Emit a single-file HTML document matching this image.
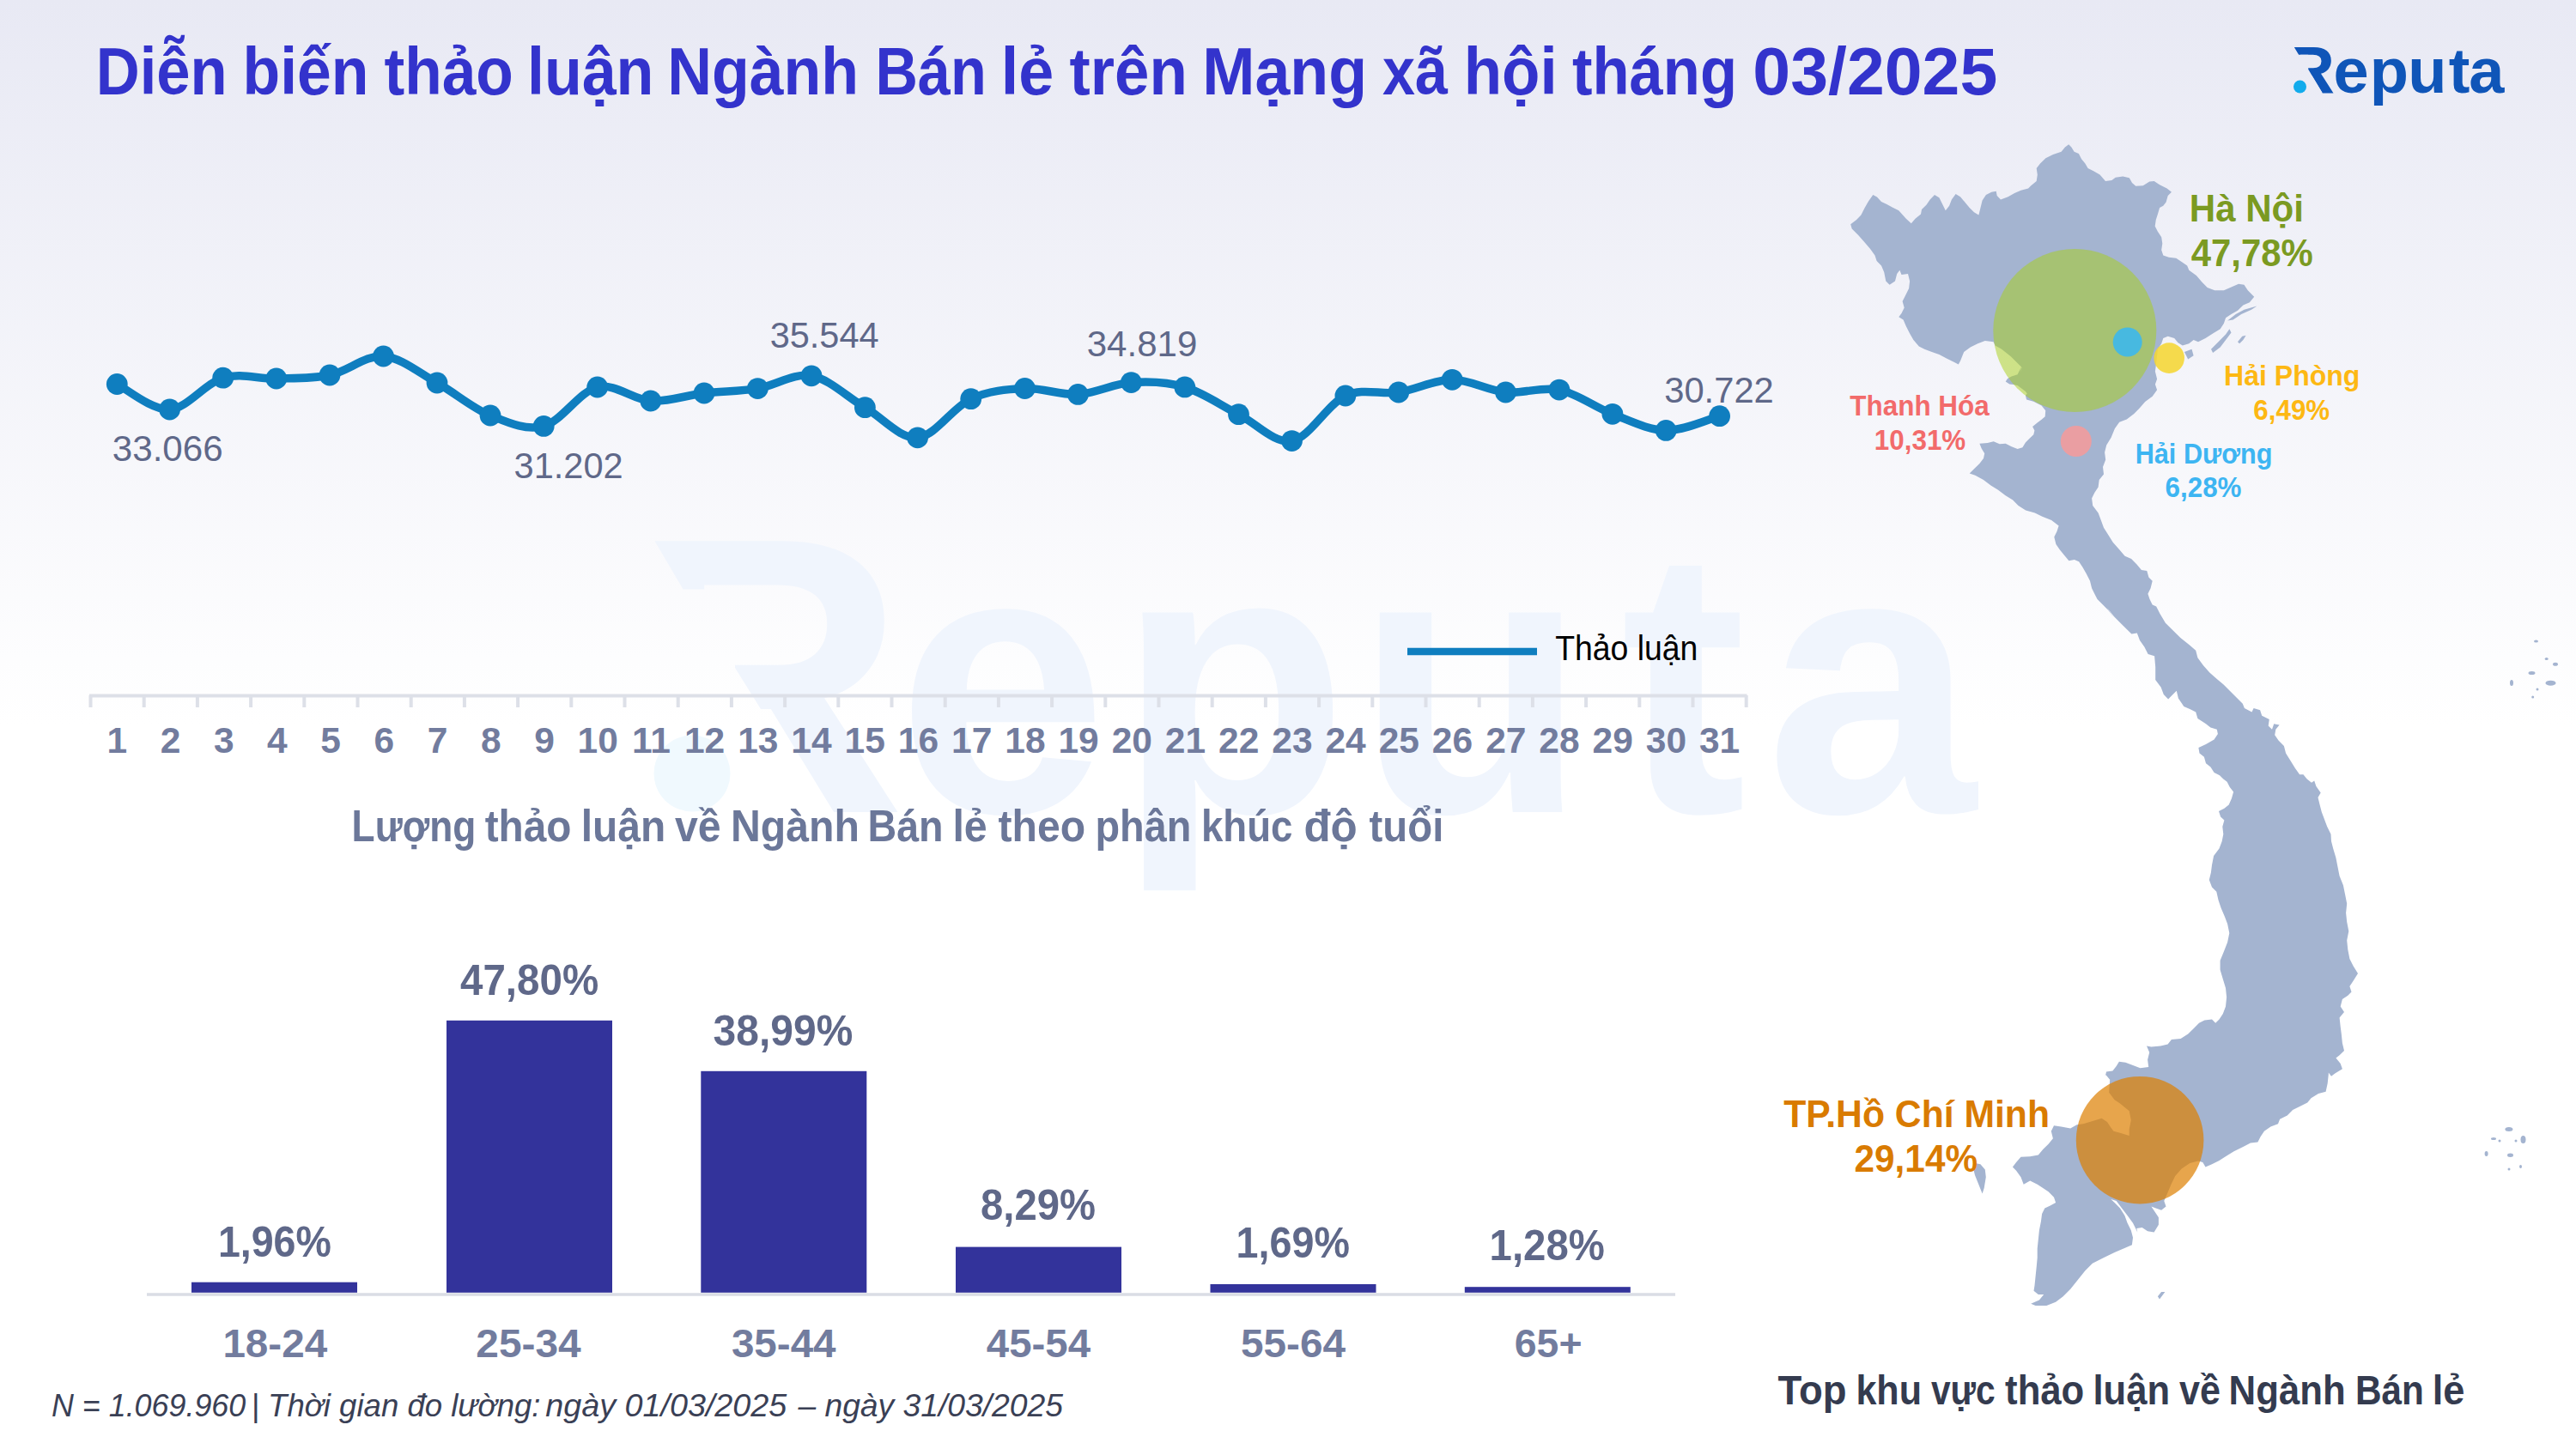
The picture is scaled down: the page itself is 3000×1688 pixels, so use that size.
<!DOCTYPE html><html lang="vi"><head><meta charset="utf-8"><title>Diễn biến thảo luận Ngành Bán lẻ</title>
<style>html,body{margin:0;padding:0;background:#fff}body{width:3000px;height:1688px;overflow:hidden}svg{display:block}text{font-family:"Liberation Sans", Arial, sans-serif;white-space:pre}.b{font-weight:bold}.i{font-style:italic}</style></head><body>
<svg width="3000" height="1688" viewBox="0 0 3000 1688">
<defs><linearGradient id="bg" x1="0" y1="0" x2="0" y2="1"><stop offset="0" stop-color="#E8E9F4"/><stop offset="0.5" stop-color="#FFFFFF"/><stop offset="1" stop-color="#FFFFFF"/></linearGradient>
<clipPath id="cw"><path d="M760 626 H2400 V1100 H1000 V946 H961 L856 778 V686.5 H795.5 Z"/></clipPath>
<clipPath id="cl"><path d="M2670 52 H2930 V130 H2704.2 V107.6 L2688.2 80.8 V63.7 H2677.1 Z"/></clipPath>
</defs>
<rect width="3000" height="1688" fill="url(#bg)"/>
<text class="b" x="723.4 1044.8 1301.4 1579.5 1887.3 2056.5" y="946.0" font-size="440.0" fill="#F0F5FD" clip-path="url(#cw)"><tspan font-size="459.0">R</tspan>eputa</text>
<circle cx="806" cy="901" r="44.5" fill="#F0F9FE"/>
<text class="b" x="2662.8 2717.4 2759.8 2804.3 2851.7 2875.2" y="107.6" font-size="74.0" fill="#0F55B8" clip-path="url(#cl)"><tspan font-size="78.0">R</tspan>eputa</text>
<circle cx="2678.5" cy="101" r="7.5" fill="#12ABEC"/>
<text class="b" font-size="77.0" fill="#3333CC" y="109.5"><tspan x="111.7" textLength="152.9" lengthAdjust="spacingAndGlyphs">Diễn</tspan> <tspan x="282.5" textLength="147.0" lengthAdjust="spacingAndGlyphs">biến</tspan> <tspan x="447.5" textLength="150.3" lengthAdjust="spacingAndGlyphs">thảo</tspan> <tspan x="614.0" textLength="147.4" lengthAdjust="spacingAndGlyphs">luận</tspan> <tspan x="777.2" textLength="222.9" lengthAdjust="spacingAndGlyphs">Ngành</tspan> <tspan x="1019.4" textLength="129.3" lengthAdjust="spacingAndGlyphs">Bán</tspan> <tspan x="1165.7" textLength="61.5" lengthAdjust="spacingAndGlyphs">lẻ</tspan> <tspan x="1245.6" textLength="137.3" lengthAdjust="spacingAndGlyphs">trên</tspan> <tspan x="1400.3" textLength="191.8" lengthAdjust="spacingAndGlyphs">Mạng</tspan> <tspan x="1610.1" textLength="76.0" lengthAdjust="spacingAndGlyphs">xã</tspan> <tspan x="1704.7" textLength="108.9" lengthAdjust="spacingAndGlyphs">hội</tspan> <tspan x="1831.0" textLength="192.0" lengthAdjust="spacingAndGlyphs">tháng</tspan> <tspan x="2041.3" textLength="285.0" lengthAdjust="spacingAndGlyphs">03/2025</tspan></text>
<g fill="#A4B4D0">
<path d="M2155.2 261.2 L2162.1 255.9 L2167.4 250.5 L2171.7 242.0 L2176.0 234.5 L2181.3 227.0 L2186.0 229.6 L2191.0 235.1 L2197.4 238.1 L2203.8 241.6 L2211.3 245.2 L2219.8 254.8 L2225.8 260.2 L2230.5 254.8 L2237.0 249.5 L2238.0 244.1 L2243.4 238.8 L2247.7 232.4 L2253.0 227.0 L2258.4 230.2 L2262.6 238.8 L2265.8 245.2 L2270.1 239.8 L2272.9 232.4 L2277.6 225.9 L2283.0 229.2 L2288.3 235.6 L2293.7 242.0 L2299.0 247.3 L2304.4 250.5 L2306.5 242.0 L2308.6 233.4 L2312.9 227.0 L2319.3 223.8 L2324.7 222.7 L2325.7 228.1 L2330.0 232.4 L2338.6 229.2 L2346.1 224.9 L2353.6 221.7 L2362.1 219.5 L2365.3 216.3 L2371.7 211.0 L2372.8 203.5 L2371.7 196.0 L2376.0 190.6 L2382.4 184.2 L2391.0 179.9 L2400.6 176.7 L2404.9 171.4 L2409.2 168.2 L2412.4 171.4 L2415.6 176.7 L2420.9 178.9 L2424.1 185.3 L2428.4 190.6 L2431.6 196.0 L2438.1 199.2 L2445.5 203.5 L2452.0 211.0 L2459.4 209.9 L2463.7 206.7 L2472.3 205.6 L2479.8 207.3 L2483.0 213.1 L2487.3 216.7 L2495.8 216.3 L2503.3 211.6 L2508.7 211.0 L2515.1 215.2 L2523.6 219.5 L2529.0 223.8 L2524.7 228.1 L2522.6 235.6 L2519.3 239.8 L2515.1 242.0 L2512.9 249.5 L2510.8 255.9 L2509.7 263.4 L2512.9 269.8 L2517.2 276.2 L2518.3 283.7 L2517.2 291.2 L2519.3 297.6 L2525.8 299.7 L2534.3 300.8 L2540.7 305.1 L2547.2 309.4 L2549.3 314.7 L2557.9 321.1 L2564.3 328.6 L2570.7 335.0 L2579.2 338.3 L2589.9 338.3 L2599.6 334.0 L2607.1 330.8 L2613.5 331.8 L2617.8 338.3 L2625.2 345.7 L2619.9 352.2 L2612.4 355.4 L2606.0 361.8 L2598.5 366.1 L2592.1 370.3 L2589.9 376.8 L2585.7 383.2 L2577.1 388.5 L2568.5 393.9 L2560.0 398.2 L2554.6 396.0 L2549.3 400.3 L2541.8 402.4 L2536.5 399.2 L2532.2 393.9 L2524.7 391.7 L2519.3 393.9 L2517.2 400.3 L2512.9 406.7 L2510.8 426.0 L2509.9 432.8 L2512.1 441.4 L2509.9 447.8 L2512.1 454.2 L2506.7 461.7 L2498.2 468.1 L2491.7 475.6 L2485.3 482.0 L2476.8 488.5 L2468.2 491.7 L2462.9 499.2 L2458.6 509.8 L2453.2 518.4 L2451.1 527.0 L2452.2 535.5 L2449.0 544.1 L2450.0 552.6 L2444.7 559.1 L2443.6 567.6 L2439.3 574.0 L2436.1 580.4 L2437.2 589.0 L2443.6 597.6 L2446.8 606.1 L2450.0 614.7 L2455.4 623.2 L2460.7 631.8 L2468.2 640.3 L2474.6 647.8 L2482.1 651.0 L2488.5 657.5 L2493.9 663.9 L2500.3 664.9 L2502.4 672.4 L2506.7 676.7 L2504.6 685.3 L2501.4 691.7 L2503.5 698.1 L2506.7 704.5 L2511.2 706.4 L2515.5 715.0 L2521.9 725.7 L2530.5 734.2 L2539.1 742.8 L2549.7 751.3 L2557.2 757.8 L2559.4 766.3 L2565.8 774.9 L2573.3 783.4 L2581.8 790.9 L2589.3 797.3 L2596.8 804.8 L2604.3 812.3 L2611.8 819.8 L2613.9 825.1 L2622.5 829.4 L2624.6 825.1 L2632.1 827.3 L2634.2 833.7 L2642.8 838.0 L2641.7 845.5 L2646.0 849.7 L2648.2 843.3 L2654.6 844.4 L2650.3 849.7 L2649.2 856.2 L2653.5 862.6 L2659.9 869.0 L2662.1 877.6 L2667.4 886.1 L2672.8 894.7 L2678.1 902.2 L2682.4 902.2 L2686.7 907.5 L2692.0 911.8 L2695.2 909.6 L2697.4 916.1 L2702.7 923.6 L2699.5 928.9 L2701.6 937.5 L2703.8 946.0 L2707.0 954.6 L2710.2 963.1 L2714.5 971.7 L2715.0 980.0 L2717.2 988.6 L2720.4 999.3 L2722.5 1009.9 L2724.6 1020.6 L2728.9 1031.3 L2731.1 1042.0 L2733.2 1052.7 L2732.1 1063.4 L2733.2 1074.1 L2735.3 1084.8 L2733.2 1095.5 L2734.3 1106.2 L2736.4 1116.9 L2740.7 1125.5 L2746.0 1134.0 L2740.7 1142.6 L2736.4 1149.0 L2738.5 1155.4 L2734.3 1159.7 L2727.9 1164.0 L2725.7 1172.5 L2730.0 1179.0 L2724.6 1185.4 L2725.7 1196.1 L2726.8 1204.6 L2727.9 1215.3 L2730.0 1223.9 L2724.6 1229.2 L2720.4 1232.4 L2725.7 1238.9 L2727.9 1245.3 L2719.3 1250.6 L2715.0 1253.8 L2711.8 1249.5 L2711.8 1251.4 L2710.7 1262.1 L2708.6 1271.7 L2700.0 1273.9 L2691.5 1279.2 L2687.2 1284.6 L2678.7 1288.8 L2670.1 1293.1 L2663.7 1299.5 L2655.1 1303.8 L2653.0 1309.2 L2644.4 1312.4 L2636.9 1317.7 L2632.7 1324.1 L2629.4 1330.5 L2620.9 1331.6 L2612.3 1335.9 L2601.6 1341.2 L2593.1 1346.6 L2584.5 1351.9 L2576.0 1356.2 L2568.5 1359.4 L2565.3 1354.1 L2559.9 1352.4 L2550.3 1355.1 L2540.7 1361.6 L2533.2 1370.1 L2528.5 1379.7 L2524.2 1390.0 L2520.3 1399.0 L2522.5 1405.4 L2517.1 1409.7 L2510.7 1407.6 L2505.4 1405.4 L2509.6 1411.8 L2513.9 1418.3 L2513.9 1426.8 L2508.6 1435.4 L2501.1 1434.3 L2494.7 1430.0 L2488.3 1431.1 L2489.3 1435.4 L2484.0 1424.7 L2477.6 1416.1 L2471.1 1407.6 L2464.7 1399.0 L2458.3 1396.9 L2462.6 1401.1 L2469.0 1407.6 L2474.4 1416.1 L2477.6 1424.7 L2481.8 1433.2 L2484.0 1441.8 L2482.9 1450.3 L2475.4 1453.6 L2462.6 1458.9 L2449.7 1465.3 L2436.9 1471.7 L2428.4 1480.3 L2419.8 1491.0 L2411.2 1501.7 L2402.7 1510.2 L2394.1 1516.7 L2383.4 1520.9 L2370.6 1520.9 L2365.2 1518.8 L2374.9 1514.5 L2380.2 1508.1 L2373.8 1508.1 L2368.5 1503.8 L2369.5 1497.4 L2370.6 1486.7 L2371.7 1476.0 L2372.7 1465.3 L2372.7 1454.6 L2373.8 1443.9 L2374.9 1433.2 L2377.0 1422.5 L2378.1 1414.0 L2381.3 1407.6 L2387.7 1404.4 L2394.1 1401.1 L2392.0 1394.7 L2385.6 1388.3 L2379.2 1384.0 L2372.7 1379.7 L2364.2 1375.5 L2356.7 1379.7 L2353.5 1371.2 L2348.1 1363.7 L2343.9 1359.4 L2348.1 1354.1 L2353.5 1347.7 L2364.2 1347.2 L2373.8 1345.5 L2379.2 1339.1 L2385.6 1332.7 L2390.9 1326.3 L2388.8 1317.7 L2392.0 1311.3 L2400.5 1312.4 L2411.2 1314.5 L2418.7 1310.2 L2426.2 1309.2 L2436.9 1305.9 L2447.6 1302.7 L2454.0 1307.0 L2458.3 1313.4 L2461.5 1317.7 L2469.0 1319.8 L2479.7 1323.1 L2479.7 1315.6 L2481.8 1304.9 L2479.7 1294.2 L2469.0 1285.6 L2462.6 1281.3 L2456.2 1272.8 L2457.2 1257.8 L2451.9 1251.4 L2451.9 1253.8 L2453.0 1248.5 L2460.4 1247.4 L2464.7 1242.1 L2467.9 1236.7 L2475.4 1237.8 L2484.0 1241.0 L2492.5 1244.2 L2502.2 1243.1 L2501.1 1234.6 L2503.2 1226.0 L2500.0 1218.5 L2505.4 1219.6 L2516.1 1218.5 L2524.6 1216.4 L2528.9 1211.0 L2539.6 1210.0 L2548.2 1204.6 L2554.6 1198.2 L2561.0 1191.8 L2567.4 1188.6 L2576.0 1187.5 L2580.2 1191.8 L2584.5 1187.5 L2588.8 1181.1 L2592.0 1172.5 L2593.1 1161.8 L2592.0 1151.1 L2588.8 1140.4 L2585.6 1129.7 L2585.6 1119.1 L2589.9 1108.4 L2594.1 1097.7 L2596.3 1087.0 L2594.1 1076.3 L2590.9 1067.7 L2586.7 1058.1 L2583.5 1048.5 L2581.3 1038.8 L2576.0 1033.5 L2572.8 1024.9 L2574.9 1016.4 L2576.0 1007.8 L2578.1 997.1 L2584.5 988.6 L2587.7 980.0 L2589.3 971.7 L2588.3 963.1 L2590.4 955.6 L2586.1 951.4 L2584.0 944.9 L2590.4 941.7 L2595.7 937.5 L2599.0 930.0 L2601.1 922.5 L2596.8 917.1 L2593.6 910.7 L2589.3 907.5 L2585.0 903.2 L2578.6 900.0 L2574.4 893.6 L2569.0 889.3 L2566.9 881.8 L2561.5 877.6 L2560.4 871.1 L2569.0 866.9 L2578.6 861.5 L2582.9 855.1 L2581.8 849.7 L2574.4 847.6 L2569.0 843.3 L2559.4 836.9 L2557.2 829.4 L2550.8 826.2 L2543.3 823.0 L2536.9 813.4 L2534.8 804.8 L2530.5 809.1 L2525.1 814.5 L2519.8 809.1 L2516.6 800.5 L2510.2 792.0 L2510.2 777.0 L2509.1 764.2 L2501.6 762.0 L2497.3 753.5 L2492.0 746.0 L2488.8 737.4 L2482.4 738.5 L2472.7 728.9 L2462.0 718.2 L2453.5 707.5 L2461.8 719.5 L2455.4 710.9 L2449.0 704.5 L2442.5 698.1 L2439.3 691.7 L2436.1 685.3 L2434.0 676.7 L2429.7 668.2 L2425.4 660.7 L2421.1 654.2 L2415.8 652.1 L2409.4 653.2 L2404.0 646.8 L2398.7 640.3 L2394.4 633.9 L2392.3 625.4 L2395.5 619.0 L2397.6 612.5 L2389.1 606.1 L2378.4 601.8 L2369.8 597.6 L2359.1 594.4 L2350.5 589.0 L2344.1 582.6 L2335.6 577.2 L2327.0 570.8 L2318.5 565.5 L2309.9 559.1 L2300.3 553.7 L2293.7 551.6 L2299.5 545.8 L2305.4 540.0 L2310.0 534.1 L2311.2 528.3 L2307.7 522.5 L2305.4 516.7 L2314.7 516.1 L2321.7 514.3 L2328.7 517.2 L2335.7 516.7 L2342.6 520.2 L2349.6 523.1 L2355.4 521.3 L2358.9 515.5 L2363.6 510.8 L2368.3 506.2 L2369.4 501.5 L2367.1 496.9 L2372.9 492.2 L2377.6 488.7 L2381.7 485.2 L2382.2 478.2 L2377.6 472.4 L2368.3 467.7 L2360.1 465.4 L2358.9 460.8 L2360.7 458.4 L2358.9 456.1 L2349.6 449.1 L2345.0 448.0 L2340.3 447.4 L2335.7 444.5 L2338.0 441.0 L2342.6 438.6 L2349.6 436.3 L2354.3 427.0 L2352.5 434.5 L2354.6 428.1 L2350.3 423.8 L2341.8 415.3 L2331.1 406.7 L2323.6 402.4 L2321.5 398.2 L2311.8 397.1 L2303.3 400.3 L2294.7 404.6 L2287.2 409.9 L2283.0 420.6 L2280.8 424.5 L2275.5 421.7 L2266.9 417.4 L2258.4 413.1 L2249.8 409.9 L2241.2 406.7 L2234.8 403.5 L2228.4 396.0 L2224.1 388.5 L2219.8 380.0 L2216.6 372.5 L2211.3 369.3 L2214.5 365.0 L2217.7 358.6 L2215.6 351.1 L2218.8 344.7 L2223.1 336.1 L2224.1 327.6 L2222.0 319.0 L2214.5 320.1 L2212.4 314.7 L2209.2 319.0 L2207.0 327.6 L2200.6 331.8 L2196.3 327.6 L2194.2 316.9 L2191.0 309.4 L2185.6 304.0 L2183.5 297.6 L2178.1 290.1 L2171.7 282.6 L2164.2 274.1 L2156.7 266.6Z"/>
<path d="M2300.0 1355.1 L2306.4 1356.2 L2311.8 1362.6 L2312.8 1371.2 L2310.7 1384.0 L2308.6 1390.4 L2304.3 1379.7 L2300.0 1369.1 L2297.9 1360.5Z"/>
<path d="M2512.9 1510.2 L2517.1 1504.9 L2521.4 1504.9 L2518.2 1509.2 L2515.0 1513.5Z"/>
<path d="M2594.2 373.6 L2603.8 366.1 L2613.5 360.7 L2628.4 356.4 L2622.0 360.7 L2610.3 366.1 L2600.6 372.5Z"/>
<path d="M2575.0 406.7 L2583.5 398.2 L2592.1 389.6 L2596.4 383.2 L2598.5 387.5 L2592.1 396.0 L2585.7 404.6 L2577.1 411.0Z"/>
<path d="M2543.9 409.9 L2552.5 406.7 L2554.6 414.2 L2548.2 418.5Z"/>
<path d="M2606.0 398.2 L2611.3 391.7 L2615.6 390.7 L2612.4 396.0 L2608.1 400.3Z"/>
<ellipse cx="2953.5" cy="747.0" rx="2.5" ry="1.5"/>
<ellipse cx="2965.7" cy="767.6" rx="2.0" ry="1.5"/>
<ellipse cx="2976.0" cy="773.7" rx="3.0" ry="2.0"/>
<ellipse cx="2948.5" cy="784.0" rx="4.0" ry="2.0"/>
<ellipse cx="2925.0" cy="795.5" rx="2.0" ry="3.5"/>
<ellipse cx="2970.5" cy="795.7" rx="6.0" ry="3.0"/>
<ellipse cx="2955.0" cy="803.0" rx="1.5" ry="1.5"/>
<ellipse cx="2949.7" cy="812.0" rx="1.5" ry="1.5"/>
<ellipse cx="2921.9" cy="1315.6" rx="4.5" ry="2.5"/>
<ellipse cx="2904.0" cy="1326.5" rx="3.0" ry="1.5"/>
<ellipse cx="2911.0" cy="1329.0" rx="1.5" ry="1.5"/>
<ellipse cx="2930.0" cy="1329.0" rx="1.5" ry="1.5"/>
<ellipse cx="2938.5" cy="1327.5" rx="3.0" ry="4.5"/>
<ellipse cx="2895.6" cy="1344.0" rx="2.0" ry="3.0"/>
<ellipse cx="2923.5" cy="1345.7" rx="3.5" ry="2.2"/>
<ellipse cx="2922.0" cy="1362.0" rx="1.5" ry="1.5"/>
<ellipse cx="2935.5" cy="1359.0" rx="1.5" ry="2.0"/>
</g>
<circle cx="2416.3" cy="385" r="95" fill="#A8D016" fill-opacity="0.5"/>
<circle cx="2477.7" cy="398.5" r="17" fill="#47B9E0"/>
<circle cx="2526.2" cy="417.1" r="17.8" fill="#F5D633" fill-opacity="0.88"/>
<circle cx="2417.8" cy="514" r="18" fill="#F79A9A" fill-opacity="0.85"/>
<circle cx="2492.1" cy="1328.2" r="74.3" fill="#DD7F00" fill-opacity="0.7"/>
<text class="b" font-size="44.0" fill="#7B9A22" y="257.6"><tspan x="2549.8" textLength="133.2" lengthAdjust="spacingAndGlyphs">Hà Nội</tspan></text>
<text class="b" font-size="44.0" fill="#7B9A22" y="309.5"><tspan x="2551.8" textLength="142.0" lengthAdjust="spacingAndGlyphs">47,78%</tspan></text>
<text class="b" font-size="33.9" fill="#F26B6B" y="483.5"><tspan x="2154.3" textLength="162.5" lengthAdjust="spacingAndGlyphs">Thanh Hóa</tspan></text>
<text class="b" font-size="33.9" fill="#F26B6B" y="523.6"><tspan x="2182.8" textLength="106.5" lengthAdjust="spacingAndGlyphs">10,31%</tspan></text>
<text class="b" font-size="33.9" fill="#FDB813" y="448.6"><tspan x="2590.1" textLength="158.3" lengthAdjust="spacingAndGlyphs">Hải Phòng</tspan></text>
<text class="b" font-size="33.9" fill="#FDB813" y="489.2"><tspan x="2624.3" textLength="88.9" lengthAdjust="spacingAndGlyphs">6,49%</tspan></text>
<text class="b" font-size="33.9" fill="#3DB5F2" y="539.7"><tspan x="2486.7" textLength="159.8" lengthAdjust="spacingAndGlyphs">Hải Dương</tspan></text>
<text class="b" font-size="33.9" fill="#3DB5F2" y="579.4"><tspan x="2521.6" textLength="88.9" lengthAdjust="spacingAndGlyphs">6,28%</tspan></text>
<text class="b" font-size="44.0" fill="#D97B00" y="1313.0"><tspan x="2077.2" textLength="309.8" lengthAdjust="spacingAndGlyphs">TP.Hồ Chí Minh</tspan></text>
<text class="b" font-size="45.0" fill="#D97B00" y="1365.0"><tspan x="2159.5" textLength="143.6" lengthAdjust="spacingAndGlyphs">29,14%</tspan></text>
<text class="b" font-size="47.4" fill="#343B4F" y="1636.0"><tspan x="2070.5" textLength="80.0" lengthAdjust="spacingAndGlyphs">Top</tspan> <tspan x="2161.4" textLength="76.6" lengthAdjust="spacingAndGlyphs">khu</tspan> <tspan x="2248.9" textLength="74.8" lengthAdjust="spacingAndGlyphs">vực</tspan> <tspan x="2335.1" textLength="92.2" lengthAdjust="spacingAndGlyphs">thảo</tspan> <tspan x="2437.5" textLength="89.5" lengthAdjust="spacingAndGlyphs">luận</tspan> <tspan x="2538.1" textLength="48.0" lengthAdjust="spacingAndGlyphs">về</tspan> <tspan x="2595.6" textLength="136.1" lengthAdjust="spacingAndGlyphs">Ngành</tspan> <tspan x="2742.9" textLength="80.0" lengthAdjust="spacingAndGlyphs">Bán</tspan> <tspan x="2832.7" textLength="37.7" lengthAdjust="spacingAndGlyphs">lẻ</tspan></text>
<path d="M136.3 447.5 C146.5 452.4 177.0 478.2 197.6 477.0 C218.2 475.8 239.0 446.2 259.7 440.2 C280.4 434.2 301.1 441.5 321.8 441.0 C342.5 440.5 363.2 441.3 384.0 437.0 C404.8 432.7 425.7 413.5 446.5 415.0 C467.3 416.5 488.2 434.5 509.0 446.0 C529.8 457.5 550.3 475.6 571.0 484.0 C591.7 492.4 612.4 501.9 633.2 496.4 C654.0 490.9 674.9 455.9 695.7 451.0 C716.5 446.1 737.1 465.8 757.8 467.0 C778.5 468.2 799.2 460.4 820.0 458.0 C840.8 455.6 861.6 456.0 882.4 452.6 C903.2 449.2 924.2 434.1 945.0 437.8 C965.8 441.5 986.8 462.7 1007.4 474.7 C1028.0 486.7 1048.0 511.5 1068.6 509.8 C1089.1 508.1 1109.9 474.2 1130.7 464.7 C1151.5 455.1 1172.7 453.4 1193.5 452.5 C1214.3 451.6 1234.8 460.5 1255.4 459.4 C1276.1 458.2 1296.7 447.0 1317.4 445.6 C1338.1 444.2 1359.0 444.7 1379.8 450.9 C1400.6 457.1 1421.7 472.2 1442.5 482.7 C1463.3 493.1 1483.8 517.2 1504.5 513.6 C1525.2 510.0 1546.2 470.4 1566.9 461.0 C1587.6 451.6 1608.1 460.1 1628.8 457.0 C1649.5 453.9 1670.4 442.3 1691.2 442.3 C1712.0 442.3 1732.7 455.0 1753.5 457.0 C1774.3 459.0 1795.2 449.9 1815.9 454.1 C1836.6 458.3 1857.2 474.4 1877.9 482.3 C1898.6 490.2 1919.4 501.0 1940.2 501.4 C1961.0 501.8 1992.2 487.5 2002.6 484.7" fill="none" stroke="#0F7EBF" stroke-width="9.5" stroke-linecap="round" stroke-linejoin="round"/>
<g fill="#0F7EBF">
<circle cx="136.3" cy="447.5" r="12.4"/>
<circle cx="197.6" cy="477.0" r="12.4"/>
<circle cx="259.7" cy="440.2" r="12.4"/>
<circle cx="321.8" cy="441.0" r="12.4"/>
<circle cx="384.0" cy="437.0" r="12.4"/>
<circle cx="446.5" cy="415.0" r="12.4"/>
<circle cx="509.0" cy="446.0" r="12.4"/>
<circle cx="571.0" cy="484.0" r="12.4"/>
<circle cx="633.2" cy="496.4" r="12.4"/>
<circle cx="695.7" cy="451.0" r="12.4"/>
<circle cx="757.8" cy="467.0" r="12.4"/>
<circle cx="820.0" cy="458.0" r="12.4"/>
<circle cx="882.4" cy="452.6" r="12.4"/>
<circle cx="945.0" cy="437.8" r="12.4"/>
<circle cx="1007.4" cy="474.7" r="12.4"/>
<circle cx="1068.6" cy="509.8" r="12.4"/>
<circle cx="1130.7" cy="464.7" r="12.4"/>
<circle cx="1193.5" cy="452.5" r="12.4"/>
<circle cx="1255.4" cy="459.4" r="12.4"/>
<circle cx="1317.4" cy="445.6" r="12.4"/>
<circle cx="1379.8" cy="450.9" r="12.4"/>
<circle cx="1442.5" cy="482.7" r="12.4"/>
<circle cx="1504.5" cy="513.6" r="12.4"/>
<circle cx="1566.9" cy="461.0" r="12.4"/>
<circle cx="1628.8" cy="457.0" r="12.4"/>
<circle cx="1691.2" cy="442.3" r="12.4"/>
<circle cx="1753.5" cy="457.0" r="12.4"/>
<circle cx="1815.9" cy="454.1" r="12.4"/>
<circle cx="1877.9" cy="482.3" r="12.4"/>
<circle cx="1940.2" cy="501.4" r="12.4"/>
<circle cx="2002.6" cy="484.7" r="12.4"/>
</g>
<text font-size="43.0" fill="#5F6889" y="537.2"><tspan x="130.8" textLength="128.8" lengthAdjust="spacingAndGlyphs">33.066</tspan></text>
<text font-size="43.0" fill="#5F6889" y="557.4"><tspan x="598.6" textLength="127.1" lengthAdjust="spacingAndGlyphs">31.202</tspan></text>
<text font-size="43.0" fill="#5F6889" y="405.2"><tspan x="896.7" textLength="126.9" lengthAdjust="spacingAndGlyphs">35.544</tspan></text>
<text font-size="43.0" fill="#5F6889" y="414.6"><tspan x="1265.7" textLength="128.6" lengthAdjust="spacingAndGlyphs">34.819</tspan></text>
<text font-size="43.0" fill="#5F6889" y="469.2"><tspan x="1938.2" textLength="127.6" lengthAdjust="spacingAndGlyphs">30.722</tspan></text>
<g stroke="#DDE0E8" stroke-width="4" fill="none">
<path d="M104 810.5 H2034.5"/>
<path d="M105.5 810 V824 M167.7 810 V824 M229.9 810 V824 M292.1 810 V824 M354.3 810 V824 M416.5 810 V824 M478.7 810 V824 M540.9 810 V824 M603.1 810 V824 M665.3 810 V824 M727.5 810 V824 M789.7 810 V824 M851.9 810 V824 M914.1 810 V824 M976.3 810 V824 M1038.5 810 V824 M1100.7 810 V824 M1162.9 810 V824 M1225.1 810 V824 M1287.3 810 V824 M1349.5 810 V824 M1411.7 810 V824 M1473.9 810 V824 M1536.1 810 V824 M1598.3 810 V824 M1660.5 810 V824 M1722.7 810 V824 M1784.9 810 V824 M1847.1 810 V824 M1909.3 810 V824 M1971.5 810 V824 M2033.7 810 V824 "/>
</g>
<text class="b" font-size="42.5" fill="#727C9E" x="136.3" y="877.2" text-anchor="middle">1</text>
<text class="b" font-size="42.5" fill="#727C9E" x="198.5" y="877.2" text-anchor="middle">2</text>
<text class="b" font-size="42.5" fill="#727C9E" x="260.7" y="877.2" text-anchor="middle">3</text>
<text class="b" font-size="42.5" fill="#727C9E" x="322.9" y="877.2" text-anchor="middle">4</text>
<text class="b" font-size="42.5" fill="#727C9E" x="385.1" y="877.2" text-anchor="middle">5</text>
<text class="b" font-size="42.5" fill="#727C9E" x="447.4" y="877.2" text-anchor="middle">6</text>
<text class="b" font-size="42.5" fill="#727C9E" x="509.6" y="877.2" text-anchor="middle">7</text>
<text class="b" font-size="42.5" fill="#727C9E" x="571.8" y="877.2" text-anchor="middle">8</text>
<text class="b" font-size="42.5" fill="#727C9E" x="634.0" y="877.2" text-anchor="middle">9</text>
<text class="b" font-size="42.5" fill="#727C9E" x="696.2" y="877.2" text-anchor="middle">10</text>
<text class="b" font-size="42.5" fill="#727C9E" x="758.4" y="877.2" text-anchor="middle">11</text>
<text class="b" font-size="42.5" fill="#727C9E" x="820.6" y="877.2" text-anchor="middle">12</text>
<text class="b" font-size="42.5" fill="#727C9E" x="882.8" y="877.2" text-anchor="middle">13</text>
<text class="b" font-size="42.5" fill="#727C9E" x="945.0" y="877.2" text-anchor="middle">14</text>
<text class="b" font-size="42.5" fill="#727C9E" x="1007.2" y="877.2" text-anchor="middle">15</text>
<text class="b" font-size="42.5" fill="#727C9E" x="1069.5" y="877.2" text-anchor="middle">16</text>
<text class="b" font-size="42.5" fill="#727C9E" x="1131.7" y="877.2" text-anchor="middle">17</text>
<text class="b" font-size="42.5" fill="#727C9E" x="1193.9" y="877.2" text-anchor="middle">18</text>
<text class="b" font-size="42.5" fill="#727C9E" x="1256.1" y="877.2" text-anchor="middle">19</text>
<text class="b" font-size="42.5" fill="#727C9E" x="1318.3" y="877.2" text-anchor="middle">20</text>
<text class="b" font-size="42.5" fill="#727C9E" x="1380.5" y="877.2" text-anchor="middle">21</text>
<text class="b" font-size="42.5" fill="#727C9E" x="1442.7" y="877.2" text-anchor="middle">22</text>
<text class="b" font-size="42.5" fill="#727C9E" x="1504.9" y="877.2" text-anchor="middle">23</text>
<text class="b" font-size="42.5" fill="#727C9E" x="1567.1" y="877.2" text-anchor="middle">24</text>
<text class="b" font-size="42.5" fill="#727C9E" x="1629.3" y="877.2" text-anchor="middle">25</text>
<text class="b" font-size="42.5" fill="#727C9E" x="1691.5" y="877.2" text-anchor="middle">26</text>
<text class="b" font-size="42.5" fill="#727C9E" x="1753.8" y="877.2" text-anchor="middle">27</text>
<text class="b" font-size="42.5" fill="#727C9E" x="1816.0" y="877.2" text-anchor="middle">28</text>
<text class="b" font-size="42.5" fill="#727C9E" x="1878.2" y="877.2" text-anchor="middle">29</text>
<text class="b" font-size="42.5" fill="#727C9E" x="1940.4" y="877.2" text-anchor="middle">30</text>
<text class="b" font-size="42.5" fill="#727C9E" x="2002.6" y="877.2" text-anchor="middle">31</text>
<path d="M1639 759 H1790" stroke="#0F7EBF" stroke-width="8.5" fill="none"/>
<text font-size="40.3" fill="#000000" y="768.5"><tspan x="1811.2" textLength="166.2" lengthAdjust="spacingAndGlyphs">Thảo luận</tspan></text>
<text class="b" font-size="52.3" fill="#6B7799" y="979.8"><tspan x="409.6" textLength="144.7" lengthAdjust="spacingAndGlyphs">Lượng</tspan> <tspan x="564.7" textLength="100.8" lengthAdjust="spacingAndGlyphs">thảo</tspan> <tspan x="676.8" textLength="98.4" lengthAdjust="spacingAndGlyphs">luận</tspan> <tspan x="785.9" textLength="53.6" lengthAdjust="spacingAndGlyphs">về</tspan> <tspan x="850.9" textLength="150.0" lengthAdjust="spacingAndGlyphs">Ngành</tspan> <tspan x="1010.5" textLength="88.1" lengthAdjust="spacingAndGlyphs">Bán</tspan> <tspan x="1109.4" textLength="40.3" lengthAdjust="spacingAndGlyphs">lẻ</tspan> <tspan x="1162.5" textLength="101.5" lengthAdjust="spacingAndGlyphs">theo</tspan> <tspan x="1275.5" textLength="111.9" lengthAdjust="spacingAndGlyphs">phân</tspan> <tspan x="1399.0" textLength="106.4" lengthAdjust="spacingAndGlyphs">khúc</tspan> <tspan x="1518.4" textLength="62.4" lengthAdjust="spacingAndGlyphs">độ</tspan> <tspan x="1594.5" textLength="86.8" lengthAdjust="spacingAndGlyphs">tuổi</tspan></text>
<path d="M171 1508 H1951" stroke="#DADDE5" stroke-width="3.6" fill="none"/>
<g fill="#33339B">
<rect x="223.0" y="1493.7" width="193" height="12.1"/>
<rect x="520.0" y="1188.8" width="193" height="317.0"/>
<rect x="816.3" y="1247.8" width="193" height="258.0"/>
<rect x="1113.0" y="1452.6" width="193" height="53.2"/>
<rect x="1409.5" y="1496.0" width="193" height="9.8"/>
<rect x="1705.8" y="1499.2" width="193" height="6.6"/>
</g>
<text class="b" font-size="49.5" fill="#5F6889" y="1463.5"><tspan x="253.9" textLength="132.0" lengthAdjust="spacingAndGlyphs">1,96%</tspan></text>
<text class="b" font-size="49.5" fill="#5F6889" y="1159.3"><tspan x="536.0" textLength="161.2" lengthAdjust="spacingAndGlyphs">47,80%</tspan></text>
<text class="b" font-size="49.5" fill="#5F6889" y="1217.5"><tspan x="830.6" textLength="162.7" lengthAdjust="spacingAndGlyphs">38,99%</tspan></text>
<text class="b" font-size="49.5" fill="#5F6889" y="1420.8"><tspan x="1142.1" textLength="133.9" lengthAdjust="spacingAndGlyphs">8,29%</tspan></text>
<text class="b" font-size="49.5" fill="#5F6889" y="1464.6"><tspan x="1439.6" textLength="132.3" lengthAdjust="spacingAndGlyphs">1,69%</tspan></text>
<text class="b" font-size="49.5" fill="#5F6889" y="1468.0"><tspan x="1734.6" textLength="134.2" lengthAdjust="spacingAndGlyphs">1,28%</tspan></text>
<text class="b" font-size="46.5" fill="#727C9E" y="1581.0"><tspan x="259.4" textLength="121.8" lengthAdjust="spacingAndGlyphs">18-24</tspan></text>
<text class="b" font-size="46.5" fill="#727C9E" y="1581.0"><tspan x="554.3" textLength="122.4" lengthAdjust="spacingAndGlyphs">25-34</tspan></text>
<text class="b" font-size="46.5" fill="#727C9E" y="1581.0"><tspan x="851.9" textLength="121.7" lengthAdjust="spacingAndGlyphs">35-44</tspan></text>
<text class="b" font-size="46.5" fill="#727C9E" y="1581.0"><tspan x="1148.8" textLength="121.3" lengthAdjust="spacingAndGlyphs">45-54</tspan></text>
<text class="b" font-size="46.5" fill="#727C9E" y="1581.0"><tspan x="1445.0" textLength="122.1" lengthAdjust="spacingAndGlyphs">55-64</tspan></text>
<text class="b" font-size="46.5" fill="#727C9E" y="1581.0"><tspan x="1763.8" textLength="78.7" lengthAdjust="spacingAndGlyphs">65+</tspan></text>
<text class="i" font-size="37.4" fill="#3A4055" y="1650.0"><tspan x="59.9" textLength="226.4" lengthAdjust="spacingAndGlyphs">N = 1.069.960</tspan> <tspan x="292.4" textLength="337.1" lengthAdjust="spacingAndGlyphs">| Thời gian đo lường:</tspan> <tspan x="635.2" textLength="281.1" lengthAdjust="spacingAndGlyphs">ngày 01/03/2025</tspan> <tspan x="929.4" textLength="308.5" lengthAdjust="spacingAndGlyphs">– ngày 31/03/2025</tspan></text>
</svg></body></html>
